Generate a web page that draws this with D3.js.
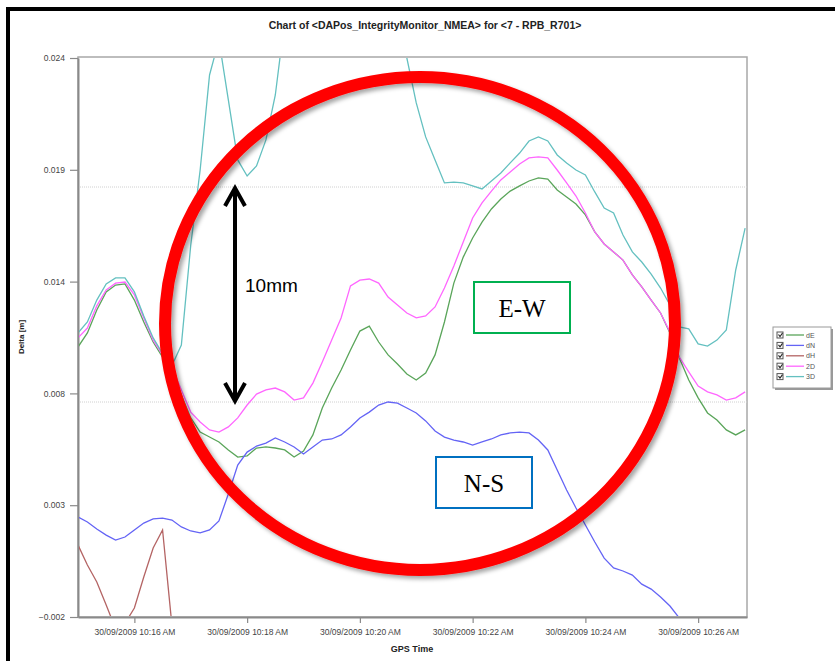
<!DOCTYPE html>
<html>
<head>
<meta charset="utf-8">
<script src="https://cdn.jsdelivr.net/npm/d3@7"></script>
<style>
  body { margin: 0; background: #fff; }
  svg { display: block; font-family: Arial, "Liberation Sans", sans-serif; }
</style>
</head>
<body>
<svg id="chart" width="835" height="661"></svg>
<script>
// samples every 10 s from 10:15:00
const startTime = new Date(2009, 8, 30, 10, 15, 0);
const endTime = new Date(2009, 8, 30, 10, 26, 52);
const stepSeconds = 10;

const seriesNames = ["dE", "dN", "dH", "2D", "3D"];
const seriesColors = ["#5aa55a", "#6464f5", "#b46464", "#ff66ff", "#64c0c0"];

const dE = [0.01056,0.01121,0.01228,0.01312,0.01344,0.01349,0.01274,0.01172,0.01079,0.01009,
  0.00940,0.00833,0.00726,0.00660,0.00637,0.00614,0.00577,0.00544,0.00549,0.00586,
  0.00591,0.00586,0.00577,0.00544,0.00572,0.00647,0.00772,0.00865,0.00949,0.01042,
  0.01130,0.01153,0.01079,0.01019,0.00977,0.00930,0.00902,0.00935,0.01019,0.01172,
  0.01353,0.01474,0.01563,0.01637,0.01698,0.01744,0.01781,0.01805,0.01828,0.01842,
  0.01837,0.01786,0.01753,0.01721,0.01670,0.01591,0.01535,0.01498,0.01460,0.01391,
  0.01335,0.01274,0.01214,0.01121,0.01005,0.00902,0.00819,0.00749,0.00716,0.00670,
  0.00647,0.00670];

const dN = [0.00265,0.00242,0.00209,0.00181,0.00158,0.00172,0.00205,0.00237,0.00256,0.00260,
  0.00251,0.00219,0.00200,0.00191,0.00205,0.00247,0.00372,0.00507,0.00567,0.00595,
  0.00609,0.00633,0.00614,0.00591,0.00558,0.00591,0.00623,0.00628,0.00647,0.00684,
  0.00726,0.00753,0.00786,0.00800,0.00795,0.00772,0.00749,0.00712,0.00665,0.00637,
  0.00623,0.00614,0.00600,0.00614,0.00628,0.00647,0.00656,0.00660,0.00656,0.00623,
  0.00577,0.00484,0.00391,0.00307,0.00228,0.00149,0.00074,0.00028,0.00014,-0.00005,
  -0.00047,-0.00070,-0.00107,-0.00149,-0.00205,-0.00251,-0.00307,-0.00330,-0.00353,-0.00400,
  -0.00456,-0.00493];

const dH = [0.00135,0.00042,-0.00037,-0.00144,-0.00255,-0.00230,-0.00158,-0.00014,0.00121,0.00205,
  -0.00240,-0.0063,-0.0133,-0.0174,-0.0222,-0.0239,-0.0209,-0.0178,-0.0168,-0.0170,
  -0.0183,-0.0206,-0.0244,-0.0257,-0.0268,-0.0274,-0.0277,-0.0277,-0.0275,-0.0268,
  -0.0265,-0.0261,-0.0257,-0.0243,-0.0226,-0.0207,-0.0184,-0.0164,-0.0147,-0.0124,
  -0.0113,-0.0096,-0.0072,-0.0048,-0.0041,-0.0034,-0.0040,-0.0044,-0.0056,-0.0061,
  -0.0056,-0.0052,-0.0059,-0.0066,-0.0079,-0.0079,-0.0074,-0.0076,-0.0060,-0.0056,
  -0.0057,-0.0057,-0.0054,-0.0054,-0.0055,-0.0064,-0.0062,-0.0064,-0.0070,-0.0080,
  -0.0115,-0.0137];

const d2D = [0.01098,0.01144,0.01247,0.01321,0.01353,0.01358,0.01298,0.01191,0.01088,0.01019,
  0.00963,0.00856,0.00753,0.00707,0.00670,0.00660,0.00684,0.00726,0.00786,0.00837,
  0.00856,0.00865,0.00847,0.00809,0.00819,0.00888,0.00986,0.01088,0.01191,0.01340,
  0.01367,0.01372,0.01353,0.01288,0.01251,0.01214,0.01191,0.01200,0.01242,0.01330,
  0.01433,0.01544,0.01656,0.01726,0.01781,0.01833,0.01870,0.01907,0.01935,0.01940,
  0.01935,0.01879,0.01819,0.01758,0.01679,0.01591,0.01535,0.01498,0.01460,0.01391,
  0.01335,0.01274,0.01214,0.01126,0.01009,0.00940,0.00874,0.00847,0.00833,0.00809,
  0.00819,0.00847];

const d3D = [0.01121,0.01172,0.01274,0.01349,0.01377,0.01377,0.01312,0.01200,0.01098,0.01025,
  0.00970,0.01065,0.01530,0.01879,0.02321,0.02484,0.02205,0.01926,0.01851,0.01898,
  0.02019,0.02228,0.02577,0.0270,0.0280,0.0288,0.0294,0.0298,0.0300,0.0300,
  0.0298,0.0295,0.0290,0.0275,0.0258,0.02400,0.02191,0.02033,0.01926,0.01819,
  0.01823,0.01819,0.01805,0.01791,0.01828,0.01865,0.01912,0.01958,0.02014,0.02033,
  0.02014,0.01949,0.01912,0.01879,0.01856,0.01777,0.01702,0.01679,0.01577,0.01498,
  0.01451,0.01395,0.01330,0.01251,0.01149,0.01140,0.01070,0.01060,0.01088,0.01135,
  0.01414,0.01609];

const yTicks = [-0.002, 0.0032, 0.0084, 0.0136, 0.0188, 0.024];
const gridValues = [0.008, 0.018];
const xTicks = [16, 18, 20, 22, 24, 26].map(m => new Date(2009, 8, 30, 10, m, 0));

const allSeries = [dE, dN, dH, d2D, d3D];

const svg = d3.select("#chart");
const plot = { left: 78, right: 747, top: 57, bottom: 617 };

const x = d3.scaleTime().domain([startTime, endTime]).range([plot.left, plot.right]);
const y = d3.scaleLinear().domain([-0.002, 0.024]).range([plot.bottom, plot.top + 1]);

const times = dE.map((_, i) => new Date(startTime.getTime() + i * stepSeconds * 1000));

// outer black frame of the screenshot
svg.append("rect").attr("x", 8).attr("y", 9).attr("width", 900).attr("height", 800)
  .attr("fill", "none").attr("stroke", "#000").attr("stroke-width", 4);

// title
svg.append("text").attr("x", 425).attr("y", 29).attr("text-anchor", "middle")
  .attr("font-size", 10.5).attr("font-weight", "bold").attr("fill", "#222")
  .text("Chart of <DAPos_IntegrityMonitor_NMEA> for <7 - RPB_R701>");

// plot frame
svg.append("rect").attr("x", plot.left).attr("y", plot.top)
  .attr("width", plot.right - plot.left).attr("height", plot.bottom - plot.top)
  .attr("fill", "none").attr("stroke", "#a8a8a8").attr("stroke-width", 1.5);

// dotted grid
svg.append("g").selectAll("line").data(gridValues).join("line")
  .attr("x1", plot.left).attr("x2", plot.right)
  .attr("y1", d => y(d)).attr("y2", d => y(d))
  .attr("stroke", "#d0d0d0").attr("stroke-width", 1).attr("stroke-dasharray", "1,1");

// axes
const fmtY = d3.format(".3f");
const yAxis = svg.append("g").attr("transform", `translate(${plot.left},0)`)
  .call(d3.axisLeft(y).tickValues(yTicks).tickFormat(fmtY).tickSize(8).tickPadding(5).tickSizeOuter(0));
yAxis.select(".domain").attr("stroke", "#8a8a8a").attr("stroke-width", 2);
yAxis.selectAll(".tick line").attr("stroke", "#8a8a8a").attr("stroke-width", 1.2);
yAxis.selectAll(".tick text").attr("font-size", 8.5).attr("fill", "#444")
  .attr("font-family", "Arial, 'Liberation Sans', sans-serif");

const fmtX = d3.timeFormat("%d/%m/%Y %I:%M %p");
const xAxis = svg.append("g").attr("transform", `translate(0,${plot.bottom})`)
  .call(d3.axisBottom(x).tickValues(xTicks).tickFormat(fmtX).tickSize(6).tickPadding(6).tickSizeOuter(0));
xAxis.select(".domain").attr("stroke", "#8a8a8a").attr("stroke-width", 2);
xAxis.selectAll(".tick line").attr("stroke", "#8a8a8a").attr("stroke-width", 1.2);
xAxis.selectAll(".tick text").attr("font-size", 8.5).attr("fill", "#444")
  .attr("font-family", "'Liberation Sans Narrow', 'Arial Narrow', Arial, sans-serif");

// axis titles
svg.append("text").attr("transform", "translate(24,337) rotate(-90)")
  .attr("text-anchor", "middle").attr("font-size", 8).attr("font-weight", "bold").attr("fill", "#222")
  .text("Delta [m]");
svg.append("text").attr("x", 412).attr("y", 652).attr("text-anchor", "middle")
  .attr("font-size", 9).attr("font-weight", "bold").attr("fill", "#222")
  .text("GPS Time");

// series
svg.append("clipPath").attr("id", "plotClip").append("rect")
  .attr("x", plot.left + 1).attr("y", plot.top + 1)
  .attr("width", plot.right - plot.left - 2).attr("height", plot.bottom - plot.top - 2);

const line = d3.line().x((d, i) => x(times[i])).y(d => y(d));
svg.append("g").attr("clip-path", "url(#plotClip)")
  .selectAll("path").data(allSeries).join("path")
  .attr("d", d => line(d))
  .attr("fill", "none")
  .attr("stroke", (d, i) => seriesColors[i])
  .attr("stroke-width", 1.3);

// legend
const legend = svg.append("g").attr("transform", "translate(773,327)");
legend.append("rect").attr("x", 2).attr("y", 2).attr("width", 58).attr("height", 61).attr("fill", "#999");
legend.append("rect").attr("width", 58).attr("height", 61).attr("fill", "#fff").attr("stroke", "#9a9a9a");
const items = legend.selectAll("g.item").data(seriesNames).join("g")
  .attr("class", "item")
  .attr("transform", (d, i) => `translate(0,${8 + i * 10.4})`);
items.append("rect").attr("x", 4).attr("y", -3).attr("width", 6).attr("height", 6)
  .attr("fill", "#fff").attr("stroke", "#555").attr("stroke-width", 1);
items.append("path").attr("d", "M5.5,-0.5 L7,1.5 L9.5,-2").attr("fill", "none")
  .attr("stroke", "#222").attr("stroke-width", 1.1);
items.append("line").attr("x1", 13).attr("x2", 31).attr("y1", 0).attr("y2", 0)
  .attr("stroke", (d, i) => seriesColors[i]).attr("stroke-width", 1.3);
items.append("text").attr("x", 33).attr("y", 2.6).attr("font-size", 7).attr("fill", "#555").text(d => d);

// annotation: red ellipse with shadow
const defs = svg.append("defs");
const shadow = defs.append("filter").attr("id", "shadow").attr("x", "-10%").attr("y", "-10%")
  .attr("width", "120%").attr("height", "120%");
shadow.append("feDropShadow").attr("dx", 3).attr("dy", 3).attr("stdDeviation", 2)
  .attr("flood-color", "#000").attr("flood-opacity", 0.35);

svg.append("ellipse").attr("cx", 420).attr("cy", 323.5).attr("rx", 255).attr("ry", 246.5)
  .attr("fill", "none").attr("stroke", "#ff0000").attr("stroke-width", 12)
  .attr("filter", "url(#shadow)");

// double arrow between grid lines (10 mm)
const arrow = svg.append("g").attr("stroke", "#000").attr("fill", "none")
  .attr("stroke-width", 4).attr("stroke-linecap", "butt");
arrow.append("line").attr("x1", 235).attr("x2", 235).attr("y1", y(0.018) + 1).attr("y2", y(0.008) - 1);
arrow.append("path").attr("d", `M225,${y(0.018) + 19} L235,${y(0.018) + 1} L245,${y(0.018) + 19}`);
arrow.append("path").attr("d", `M225,${y(0.008) - 19} L235,${y(0.008) - 1} L245,${y(0.008) - 19}`);
svg.append("text").attr("x", 245).attr("y", 292).attr("font-size", 19).attr("fill", "#000").text("10mm");

// E-W and N-S labels
const boxes = [
  { label: "E-W", x: 474, y: 282, color: "#00b050" },
  { label: "N-S", x: 436, y: 457, color: "#0070c0" }
];
const box = svg.selectAll("g.box").data(boxes).join("g").attr("class", "box");
box.append("rect").attr("x", d => d.x).attr("y", d => d.y).attr("width", 96).attr("height", 51)
  .attr("fill", "#fff").attr("stroke", d => d.color).attr("stroke-width", 2);
box.append("text").attr("x", d => d.x + 48).attr("y", d => d.y + 35).attr("text-anchor", "middle")
  .attr("font-family", "'Liberation Serif', 'Times New Roman', serif").attr("font-size", 25)
  .attr("fill", "#000").text(d => d.label);
</script>
</body>
</html>
